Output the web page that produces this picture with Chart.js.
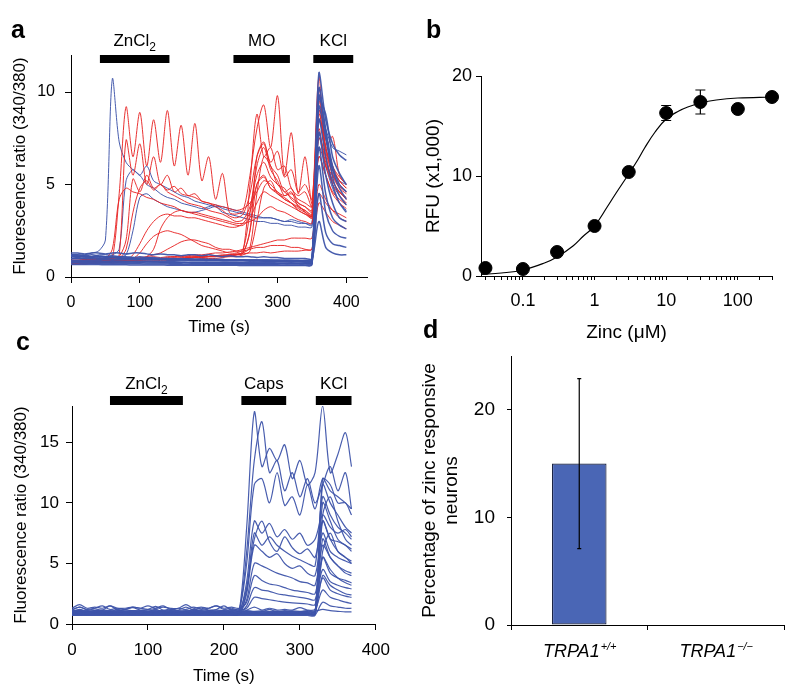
<!DOCTYPE html>
<html>
<head>
<meta charset="utf-8">
<script src="https://cdn.jsdelivr.net/npm/chart.js@4.4.1/dist/chart.umd.min.js"></script>
<style>
  body { margin: 0; background: #fff; width: 800px; height: 694px; position: relative; overflow: hidden;
         font-family: 'Liberation Sans', Arial, sans-serif; }
  canvas { position: absolute; }
  .letter { position: absolute; font-weight: bold; font-size: 25px; line-height: 25px; color: #000; }
</style>
</head>
<body>
<canvas id="chartA" width="400" height="345" style="left:0;top:0"></canvas>
<canvas id="chartB" width="400" height="345" style="left:400px;top:0"></canvas>
<canvas id="chartC" width="400" height="364" style="left:0;top:330px"></canvas>
<canvas id="chartD" width="400" height="364" style="left:400px;top:330px"></canvas>
<div class="letter" style="left:11px;top:17px">a</div>
<div class="letter" style="left:426px;top:17px">b</div>
<div class="letter" style="left:16px;top:329px">c</div>
<div class="letter" style="left:423px;top:317px">d</div>
<script>
// ---- panel a: Fura-2 traces, zinc / MO / KCl ----
const aTime = [0,10,20,30,40,50,60,70,80,90,100,110,120,130,140,150,160,170,180,190,200,
               210,220,230,240,250,260,270,280,290,300,310,320,330,340,350,360,370,380,390,400];
const aXTicks = [0, 100, 200, 300, 400];
const aYTicks = [0, 5, 10];
const aStimLabels = ['ZnCl₂', 'MO', 'KCl'];
const aStimStart = [42, 236, 352];
const aStimEnd = [143, 318, 410];

const aRed = [
  [0.8,0.8,0.85,0.85,0.9,0.9,1.0,4.5,9.2,6.5, 8.9,6.0,8.5,6.2,9.0,6.0,8.2,5.5,8.3,5.2, 6.5,4.2,5.6,3.5,3.4,3.6,5.5,8.0,9.3,7.0, 9.8,5.5,7.8,4.5,6.5,4.0,10.8,7.0,7.6,5.5, 5.0],
  [0.9,0.9,0.9,0.95,0.95,1.0,1.0,1.2,7.4,5.5, 7.2,5.0,6.5,5.0,5.5,4.6,4.8,4.4,4.5,4.1, 4.0,3.8,3.6,3.3,3.2,3.4,4.5,6.5,7.2,6.0, 5.5,4.6,4.8,4.0,3.8,3.5,9.5,7.0,5.5,4.8, 4.5],
  [0.8,0.8,0.8,0.85,0.85,0.9,0.9,1.0,1.5,3.5, 4.8,5.2,4.7,5.0,4.6,4.4,4.2,4.0,3.9,3.8, 3.6,3.5,3.4,3.2,3.0,3.1,3.8,5.5,6.2,5.4, 5.0,4.6,4.3,4.0,3.8,3.6,8.5,7.5,6.0,5.2, 4.8],
  [0.7,0.7,0.7,0.75,0.75,0.8,0.8,0.85,0.9,1.2, 1.8,2.5,3.0,3.3,3.4,3.3,3.3,3.2,3.2,3.1, 3.0,2.9,2.8,2.7,2.7,2.9,3.5,5.0,5.4,4.8, 4.5,4.2,4.0,3.7,3.5,3.3,7.5,6.5,5.2,4.6, 4.2],
  [0.75,0.75,0.8,0.8,0.8,0.85,0.85,0.9,0.9,1.0, 1.3,1.8,2.2,2.4,2.5,2.4,2.3,2.1,1.9,1.7, 1.6,1.5,1.4,1.3,1.3,1.5,3.5,6.0,7.0,5.8, 5.2,4.4,4.6,3.8,3.6,3.4,9.0,6.5,5.0,4.6, 4.2],
  [0.9,0.9,0.95,0.9,0.95,1.0,0.95,1.0,1.0,1.05, 1.0,1.05,1.1,1.05,1.1,1.1,1.15,1.1,1.15,1.1, 1.2,1.15,1.2,1.2,1.25,1.3,1.6,4.5,6.5,6.0, 5.0,4.8,4.2,3.9,3.5,3.2,8.0,6.0,5.5,4.9, 4.6],
  [0.8,0.8,0.85,0.8,0.85,0.85,0.9,0.9,0.95,0.9, 0.95,1.0,0.95,1.0,1.0,1.05,1.0,1.05,1.1,1.05, 1.1,1.1,1.15,1.1,1.2,1.3,2.5,5.0,5.5,4.8, 4.6,4.2,4.0,3.8,3.6,3.3,6.5,5.5,4.6,4.2, 3.9],
  [0.7,0.75,0.7,0.75,0.75,0.8,0.75,0.8,0.8,0.85, 0.8,0.85,0.85,0.9,0.9,0.9,0.95,0.9,0.95,1.0, 1.0,1.0,1.05,1.1,1.1,1.2,1.4,3.0,4.8,5.2, 4.5,4.3,4.0,3.6,3.4,3.2,7.0,6.0,5.0,4.4, 4.0],
  [0.9,0.9,0.9,0.95,1.0,1.0,1.5,4.2,4.8,4.6, 4.5,4.3,4.2,4.0,3.9,3.8,3.6,3.5,3.5,3.4, 3.3,3.2,3.1,3.0,2.9,2.9,3.0,3.2,3.6,3.8, 3.6,3.5,3.3,3.1,3.0,2.9,6.5,5.5,4.5,4.0, 3.7],
  [0.85,0.85,0.9,0.9,0.9,0.95,0.95,1.0,1.0,1.0, 1.05,1.1,1.2,1.3,1.5,1.7,1.9,2.0,2.0,1.9, 1.8,1.6,1.5,1.5,1.4,1.4,1.5,1.6,1.6,1.7, 1.7,1.7,1.6,1.6,1.5,1.5,4.0,3.5,3.0,2.8, 2.6],
  [0.8,0.8,0.8,0.85,0.85,0.85,0.9,0.9,0.9,0.95, 0.95,1.0,1.0,1.0,1.05,1.1,1.1,1.15,1.2,1.2, 1.25,1.3,1.3,1.35,1.4,1.5,1.6,1.7,1.8,1.9, 2.0,2.0,2.1,2.1,2.1,2.1,5.0,4.2,3.6,3.2, 3.0],
  [0.9,0.9,0.95,0.95,1.0,1.0,1.0,1.1,2.0,5.3, 4.6,5.5,4.8,5.0,4.7,4.9,4.5,4.4,4.3,4.1, 4.0,3.9,3.8,3.7,3.6,3.7,4.0,4.6,5.2,5.0, 4.6,4.4,4.5,4.2,4.0,3.8,8.8,7.0,5.8,5.2, 4.8],
  [0.75,0.75,0.8,0.8,0.8,0.8,0.85,0.85,0.85,0.9, 0.9,0.9,0.95,0.95,1.0,1.0,1.0,1.05,1.05,1.1, 1.1,1.1,1.15,1.2,1.2,1.3,2.5,6.5,7.3,6.2, 6.8,5.4,5.8,4.6,5.0,4.2,9.8,7.5,6.0,5.4, 5.0],
  [0.7,0.7,0.75,0.75,0.8,0.8,0.8,0.85,0.85,0.9, 0.9,0.95,0.95,1.0,1.0,1.0,1.05,1.05,1.1,1.1, 1.1,1.15,1.15,1.2,1.2,1.25,1.3,1.3,1.35,1.3, 1.35,1.4,1.4,1.4,1.45,1.5,4.5,4.0,3.6,3.4, 3.2],
  [0.85,0.85,0.85,0.9,0.9,0.9,0.95,0.95,1.0,1.0, 1.0,1.1,1.5,2.6,3.2,3.5,3.6,3.5,3.4,3.3, 3.2,3.1,3.0,2.9,2.8,2.8,3.2,4.0,4.6,4.4, 4.2,4.0,3.8,3.6,3.4,3.3,7.8,6.2,5.2,4.6, 4.3],
  [0.8,0.8,0.8,0.85,0.8,0.85,0.85,0.9,0.85,0.9, 0.9,0.95,0.9,0.95,0.95,1.0,1.0,1.0,1.05,1.05, 1.1,1.1,1.1,1.15,1.2,1.4,5.0,8.8,6.5,7.0, 5.8,6.0,4.8,4.4,4.6,3.8,10.2,6.8,5.6,5.0, 4.6]
];
const aBlueResp = [
  [1.2,1.2,1.2,1.3,1.4,2.0,10.7,7.3,6.2,5.8, 5.5,5.0,4.8,4.5,4.3,4.2,4.0,3.9,3.8,3.7, 3.8,3.9,3.7,3.6,3.5,3.4,3.3,3.2,3.2,3.2, 3.1,3.0,3.0,2.9,2.9,2.9,9.0,8.0,7.0,6.8, 6.6],
  [1.1,1.1,1.15,1.1,1.2,1.2,1.2,1.5,5.2,5.8, 5.5,6.0,5.2,5.0,4.8,4.6,4.4,4.3,4.1,4.0, 3.9,3.8,3.8,3.7,3.6,3.5,3.4,3.3,3.2,3.2, 3.1,3.0,3.1,3.0,2.9,2.8,8.5,7.0,5.8,5.2, 5.0],
  [1.0,1.0,1.05,1.0,1.05,1.1,1.1,1.1,1.2,2.5, 4.3,4.5,4.2,4.0,3.8,3.7,3.6,3.5,3.5,3.6, 3.7,3.8,3.5,3.4,3.3,3.2,3.1,3.0,3.0,2.9, 2.9,2.8,2.8,2.7,2.7,2.7,7.5,6.0,4.8,4.0, 3.6]
];
const aBlueBase = [
  [1.3,1.3,1.25,1.3,1.3,1.25,1.3,1.3,1.25,1.3, 1.3,1.25,1.2,1.25,1.2,1.2,1.15,1.2,1.2,1.15, 1.2,1.15,1.1,1.15,1.1,1.1,1.1,1.05,1.1,1.05, 1.05,1.0,1.0,1.0,1.0,1.0,11.0,8.5,7.2,6.6, 6.3],
  [1.1,1.1,1.1,1.05,1.1,1.1,1.05,1.1,1.05,1.05, 1.0,1.05,1.0,1.0,1.0,0.95,1.0,0.95,0.95,0.95, 0.9,0.95,0.9,0.9,0.9,0.9,0.85,0.9,0.85,0.85, 0.85,0.85,0.8,0.85,0.8,0.8,9.6,8.8,6.5,5.6, 5.0],
  [0.9,0.9,0.88,0.9,0.88,0.86,0.88,0.86,0.85,0.85, 0.84,0.85,0.83,0.83,0.82,0.82,0.8,0.8,0.8,0.8, 0.78,0.78,0.78,0.77,0.77,0.76,0.76,0.75,0.75,0.75, 0.74,0.74,0.73,0.73,0.73,0.75,9.2,7.5,5.8,4.8, 4.2],
  [0.75,0.75,0.74,0.74,0.73,0.73,0.72,0.72,0.72,0.71, 0.71,0.7,0.7,0.7,0.7,0.69,0.69,0.69,0.68,0.68, 0.68,0.68,0.67,0.67,0.67,0.67,0.66,0.66,0.66,0.66, 0.66,0.65,0.65,0.65,0.65,0.7,8.5,6.5,5.0,4.0, 3.5],
  [1.2,1.2,1.15,1.2,1.15,1.1,1.15,1.1,1.1,1.05, 1.1,1.05,1.05,1.0,1.0,1.0,0.98,0.98,0.96,0.96, 0.95,0.95,0.94,0.93,0.93,0.92,0.92,0.91,0.9,0.9, 0.9,0.89,0.88,0.88,0.88,0.9,7.0,4.5,3.2,2.8, 2.6],
  [1.0,1.0,0.98,0.98,0.96,0.96,0.95,0.95,0.94,0.94, 0.93,0.93,0.92,0.92,0.91,0.9,0.9,0.9,0.89,0.89, 0.88,0.88,0.87,0.87,0.86,0.86,0.86,0.85,0.85,0.85, 0.84,0.84,0.84,0.83,0.83,0.85,6.0,3.5,2.5,2.2, 2.1],
  [0.8,0.8,0.8,0.79,0.79,0.78,0.78,0.78,0.77,0.77, 0.77,0.76,0.76,0.76,0.75,0.75,0.75,0.75,0.74,0.74, 0.74,0.74,0.73,0.73,0.73,0.73,0.72,0.72,0.72,0.72, 0.72,0.71,0.71,0.71,0.71,0.75,4.5,2.4,1.8,1.7, 1.6],
  [1.15,1.15,1.1,1.1,1.1,1.05,1.05,1.05,1.0,1.0, 1.0,1.0,0.98,0.98,0.97,0.97,0.96,0.96,0.95,0.95, 0.95,0.94,0.94,0.93,0.93,0.93,0.92,0.92,0.92,0.91, 0.91,0.91,0.9,0.9,0.9,0.95,3.0,1.6,1.3,1.2, 1.2],
  [0.85,0.85,0.84,0.84,0.83,0.83,0.83,0.82,0.82,0.82, 0.81,0.81,0.81,0.8,0.8,0.8,0.8,0.79,0.79,0.79, 0.79,0.78,0.78,0.78,0.78,0.77,0.77,0.77,0.77,0.77, 0.76,0.76,0.76,0.76,0.76,0.8,10.2,8.0,6.0,5.0, 4.6],
  [1.0,1.05,1.0,1.05,1.0,1.0,1.05,1.0,1.0,0.98, 0.98,0.97,0.97,0.96,0.96,0.95,0.95,0.94,0.94,0.93, 0.93,0.92,0.92,0.92,0.91,0.91,0.9,0.9,0.9,0.9, 0.89,0.89,0.89,0.88,0.88,0.9,7.8,5.5,4.0,3.2, 3.0],
  [0.68,0.68,0.67,0.67,0.67,0.66,0.66,0.66,0.66,0.65, 0.65,0.65,0.65,0.65,0.64,0.64,0.64,0.64,0.64,0.63, 0.63,0.63,0.63,0.63,0.63,0.62,0.62,0.62,0.62,0.62, 0.62,0.62,0.62,0.62,0.62,0.66,9.8,7.8,5.4,4.4, 3.9]
];

// ---- panel b: dose-response ----
const bConc = [0.03, 0.1, 0.3, 1, 3, 10, 30, 100, 300];
const bRfu = [0.8, 0.7, 2.4, 5.0, 10.4, 16.3, 17.4, 16.7, 17.9];
const bSem = [0.2, 0.2, 0.2, 0.2, 0.2, 0.75, 1.2, 0.2, 0.2];
const bFitConc = [0.026, 0.05, 0.1, 0.2, 0.3, 0.5, 0.7, 1, 1.5, 2, 3, 4, 5, 7, 10, 15, 20, 30, 50, 100, 300];
const bFitRfu = [0.15, 0.3, 0.6, 1.3, 1.9, 3.0, 4.0, 5.0, 6.9, 8.3, 10.2, 11.6, 12.8, 14.4, 15.7, 16.5, 16.9, 17.3, 17.6, 17.8, 17.9];
const bXTicks = [0.03,0.04,0.05,0.06,0.07,0.08,0.09, 0.1,0.2,0.3,0.4,0.5,0.6,0.7,0.8,0.9,
                 1,2,3,4,5,6,7,8,9, 10,20,30,40,50,60,70,80,90, 100,200,300];
const bXLabeled = [0.1, 1, 10, 100];
const bYTicks = [0, 10, 20];

// ---- panel c: zinc / capsaicin / KCl ----
const cTime = [0,10,20,30,40,50,60,70,80,90,100,110,120,130,140,150,160,170,180,190,200,
               210,220,230,240,250,260,270,280,290,300,310,320,330,340,350,360,368];
const cXTicks = [0, 100, 200, 300, 400];
const cYTicks = [0, 5, 10, 15];
const cStimLabels = ['ZnCl₂', 'Caps', 'KCl'];
const cStimStart = [50, 223, 321];
const cStimEnd = [146, 282, 368];
const cTraces = [
  [1.0,1.1,1.0,1.05,1.1,1.0,1.05,1.0,1.1,1.05, 1.0,1.05,1.1,1.0,1.05,1.0,1.1,1.05,1.0,1.05, 1.1,1.0,1.05,8.0,17.5,13.0,14.5,13.5,14.8,12.0, 13.5,11.5,12.5,18.0,12.5,14.0,15.8,13.0],
  [0.9,0.95,1.0,0.9,0.95,0.9,1.0,0.95,0.9,0.95, 1.0,0.9,0.95,0.9,1.0,0.95,0.9,0.95,1.0,0.9, 0.95,0.9,1.0,6.0,13.5,16.7,12.5,13.5,11.0,12.5, 10.5,12.0,10.0,11.5,13.0,11.0,12.5,9.5],
  [1.2,1.4,1.2,1.3,1.5,1.2,1.3,1.2,1.4,1.3, 1.2,1.3,1.5,1.2,1.3,1.2,1.4,1.2,1.3,1.5, 1.2,1.3,1.2,5.0,11.5,12.0,10.0,12.5,9.8,10.5, 9.0,11.5,9.5,12.0,11.5,10.0,10.0,9.0],
  [0.85,0.9,0.85,0.88,0.85,0.9,0.85,0.88,0.85,0.9, 0.85,0.88,0.85,0.9,0.85,0.88,0.85,0.9,0.85,0.88, 0.85,0.9,0.85,3.5,8.5,7.5,8.3,7.2,7.8,7.0, 7.5,6.5,7.0,9.0,8.0,7.5,7.8,7.2],
  [1.0,1.05,1.0,1.0,1.05,1.0,1.0,1.05,1.0,1.0, 1.05,1.0,1.0,1.05,1.0,1.0,1.05,1.0,1.0,1.05, 1.0,1.0,1.05,3.0,7.0,8.5,6.8,6.0,7.2,6.3, 5.8,6.2,5.5,8.5,7.0,6.8,6.5,6.0],
  [0.8,0.82,0.8,0.8,0.82,0.8,0.8,0.82,0.8,0.8, 0.82,0.8,0.8,0.82,0.8,0.8,0.82,0.8,0.8,0.82, 0.8,0.8,0.82,2.5,6.5,6.0,5.5,5.8,5.0,4.6, 4.8,4.2,4.0,7.5,6.0,5.5,5.2,5.0],
  [0.95,1.0,0.95,0.95,1.0,0.95,0.95,1.0,0.95,0.95, 1.0,0.95,0.95,1.0,0.95,0.95,1.0,0.95,0.95,1.0, 0.95,0.95,1.0,2.0,5.0,4.8,4.5,4.2,4.0,3.8, 3.5,3.4,3.2,6.5,5.5,4.8,4.4,4.2],
  [1.3,1.6,1.3,1.4,1.3,1.5,1.3,1.3,1.4,1.3, 1.5,1.3,1.4,1.3,1.3,1.6,1.3,1.4,1.3,1.5, 1.3,1.4,1.3,1.8,4.0,3.6,3.3,3.2,3.0,2.8, 2.7,2.6,2.5,5.5,4.2,3.8,3.6,3.4],
  [0.9,0.92,0.9,0.9,0.92,0.9,0.9,0.92,0.9,0.9, 0.92,0.9,0.9,0.92,0.9,0.9,0.92,0.9,0.9,0.92, 0.9,0.9,0.92,1.5,3.0,2.8,2.7,2.5,2.4,2.3, 2.2,2.1,2.0,4.5,3.5,3.2,3.0,2.9],
  [1.1,1.15,1.1,1.1,1.15,1.1,1.1,1.15,1.1,1.1, 1.15,1.1,1.1,1.15,1.1,1.1,1.15,1.1,1.1,1.15, 1.1,1.1,1.15,1.3,2.2,2.1,2.0,1.9,1.8,1.75, 1.7,1.65,1.6,3.8,2.8,2.5,2.3,2.2],
  [0.75,0.78,0.75,0.75,0.78,0.75,0.75,0.78,0.75,0.75, 0.78,0.75,0.75,0.78,0.75,0.75,0.78,0.75,0.75,0.78, 0.75,0.75,0.78,2.8,7.5,6.5,7.2,6.5,6.0,5.6, 5.3,5.0,4.8,10.5,9.0,8.0,7.5,7.0],
  [0.9,0.9,0.88,0.9,0.88,0.9,0.88,0.9,0.88,0.9, 0.88,0.9,0.88,0.9,0.88,0.9,0.88,0.9,0.88,0.9, 0.88,0.9,0.88,0.9,0.88,0.9,0.88,0.9,0.88,0.9, 0.88,0.9,0.9,11.5,10.0,9.0,8.0,7.5],
  [0.8,0.78,0.8,0.79,0.8,0.78,0.8,0.79,0.8,0.78, 0.8,0.78,0.8,0.79,0.8,0.78,0.8,0.79,0.8,0.78, 0.8,0.78,0.8,0.79,0.8,0.78,0.8,0.79,0.8,0.78, 0.8,0.79,0.8,10.0,8.5,7.0,6.5,6.2],
  [1.0,1.2,1.0,1.1,1.0,1.0,1.2,1.0,1.1,1.0, 1.0,1.2,1.0,1.1,1.0,1.0,1.2,1.0,1.1,1.0, 1.0,1.2,1.0,1.1,1.0,1.0,1.2,1.0,1.1,1.0, 1.0,1.1,1.0,8.5,7.0,6.0,5.5,5.0],
  [0.7,0.72,0.7,0.71,0.7,0.72,0.7,0.71,0.7,0.72, 0.7,0.72,0.7,0.71,0.7,0.72,0.7,0.71,0.7,0.72, 0.7,0.72,0.7,0.71,0.7,0.72,0.7,0.71,0.7,0.72, 0.7,0.71,0.72,7.0,5.5,4.8,4.2,4.0],
  [0.95,0.97,0.95,0.96,0.95,0.97,0.95,0.96,0.95,0.97, 0.95,0.97,0.95,0.96,0.95,0.97,0.95,0.96,0.95,0.97, 0.95,0.97,0.95,0.96,0.95,0.97,0.95,0.96,0.95,0.97, 0.95,0.96,0.96,5.5,4.5,3.8,3.4,3.2],
  [0.85,0.86,0.85,0.87,0.85,0.86,0.85,0.87,0.85,0.86, 0.85,0.87,0.85,0.86,0.85,0.87,0.85,0.86,0.85,0.87, 0.85,0.86,0.85,0.87,0.85,0.86,0.85,0.87,0.85,0.86, 0.85,0.87,0.86,4.0,3.2,2.8,2.5,2.4],
  [1.15,1.4,1.15,1.25,1.15,1.5,1.15,1.2,1.35,1.15, 1.2,1.45,1.15,1.25,1.15,1.4,1.15,1.3,1.15,1.2, 1.5,1.15,1.25,1.15,1.4,1.15,1.3,1.15,1.2,1.15, 1.35,1.15,1.2,2.8,2.2,2.0,1.8,1.7],
  [0.75,0.76,0.75,0.77,0.75,0.76,0.75,0.77,0.75,0.76, 0.75,0.77,0.75,0.76,0.75,0.77,0.75,0.76,0.75,0.77, 0.75,0.76,0.75,0.77,0.75,0.76,0.75,0.77,0.75,0.76, 0.75,0.77,0.76,1.8,1.5,1.4,1.3,1.3],
  [1.05,1.08,1.05,1.06,1.05,1.08,1.05,1.06,1.05,1.08, 1.05,1.06,1.05,1.08,1.05,1.06,1.05,1.08,1.05,1.06, 1.05,1.08,1.05,1.06,1.05,1.08,1.05,1.06,1.05,1.08, 1.05,1.06,1.05,1.2,1.1,1.05,1.0,1.0],
  [0.92,0.93,0.92,0.94,0.92,0.93,0.92,0.94,0.92,0.93, 0.92,0.94,0.92,0.93,0.92,0.94,0.92,0.93,0.92,0.94, 0.92,0.93,0.92,0.94,0.92,0.93,0.92,0.94,0.92,0.93, 0.92,0.93,0.92,12.0,11.0,10.5,10.0,9.5],
  [0.82,0.83,0.82,0.84,0.82,0.83,0.82,0.84,0.82,0.83, 0.82,0.84,0.82,0.83,0.82,0.84,0.82,0.83,0.82,0.84, 0.82,0.83,0.82,0.84,0.82,0.83,0.82,0.84,0.82,0.83, 0.82,0.84,0.83,6.0,7.5,6.0,5.5,5.2],
  [1.0,1.02,1.0,1.03,1.0,1.02,1.0,1.03,1.0,1.02, 1.0,1.03,1.0,1.02,1.0,1.03,1.0,1.02,1.0,1.03, 1.0,1.02,1.0,1.03,1.0,1.02,1.0,1.03,1.0,1.02, 1.0,1.03,1.0,9.0,10.5,8.5,7.0,6.5]
];

// ---- panel d: percentage of zinc responsive neurons ----
const dGene = ['TRPA1', 'TRPA1'];
const dGenotype = ['+/+', '−/−'];
const dPercent = [15.0, 0];
const dSem = [7.9, 0];
const dYTicks = [0, 10, 20];

const FONT = "'Liberation Sans', Arial, sans-serif";
const RED = 'rgba(232,40,40,0.95)';
const BLUE = 'rgba(62,84,170,0.95)';
const BAR_BLUE = '#4a66b5';

Chart.defaults.font.family = FONT;
Chart.defaults.color = '#000';

function traces(time, list, color, order, width) {
  return list.map(vals => ({
    data: time.map((t, i) => ({ x: t, y: vals[i] })),
    borderColor: color, borderWidth: width, pointRadius: 0, tension: 0.3, order: order
  }));
}

function axis(fontSize, tickLen, pad, extra) {
  return Object.assign({
    grid: { display: true, drawOnChartArea: false, drawTicks: true, tickLength: tickLen, color: '#000' },
    border: { display: true, color: '#000', width: 1 },
    ticks: { color: '#000', font: { size: fontSize }, padding: pad, autoSkip: false, maxRotation: 0 }
  }, extra);
}

function title(text, size, pad) {
  return { display: true, text: text, color: '#000', font: { size: size }, padding: pad };
}

function fixedTicks(list) {
  return s => { s.ticks = list.map(v => ({ value: v })); };
}

// stimulus bars with labels above the plot
function stimPlugin(labels, starts, ends, barTop, barH, labelY, size) {
  return {
    id: 'stim',
    afterDraw(chart) {
      const { ctx, chartArea, scales: { x } } = chart;
      ctx.save();
      labels.forEach((lab, i) => {
        const x0 = x.getPixelForValue(starts[i]);
        const x1 = x.getPixelForValue(ends[i]);
        ctx.fillStyle = '#000';
        ctx.fillRect(x0, chartArea.top + barTop, x1 - x0, barH);
        const parts = lab.split('₂');
        ctx.font = size + 'px ' + FONT;
        const wMain = ctx.measureText(parts[0]).width;
        const subSize = Math.round(size * 0.68);
        ctx.font = subSize + 'px ' + FONT;
        const wSub = parts.length > 1 ? ctx.measureText('2').width : 0;
        const left = (x0 + x1) / 2 - (wMain + wSub) / 2;
        const base = chartArea.top + labelY + size * 0.36;
        ctx.textAlign = 'left';
        ctx.textBaseline = 'alphabetic';
        ctx.font = size + 'px ' + FONT;
        ctx.fillText(parts[0], left, base);
        if (parts.length > 1) {
          ctx.font = subSize + 'px ' + FONT;
          ctx.fillText('2', left + wMain, base + size * 0.3);
        }
      });
      ctx.restore();
    }
  };
}

const common = {
  responsive: false, animation: false, events: [],
  plugins: { legend: { display: false }, tooltip: { enabled: false } }
};

// panel a
new Chart(document.getElementById('chartA'), {
  type: 'line',
  data: { datasets: [
    ...traces(aTime, aBlueResp, BLUE, 2, 1),
    ...traces(aTime, aRed, RED, 1, 1),
    ...traces(aTime, aBlueBase, BLUE, 0, 1.5)
  ] },
  options: Object.assign({}, common, {
    layout: { padding: { left: 0, top: 55, right: 33, bottom: 0 } },
    scales: {
      x: axis(16, 6, 10, { type: 'linear', min: 0, max: 430, afterBuildTicks: fixedTicks(aXTicks),
        afterFit: s => { s.height = 68; }, title: title('Time (s)', 17, { top: 0, bottom: 7 }) }),
      y: axis(16, 6, 10, { min: 0, max: 12, afterBuildTicks: fixedTicks(aYTicks),
        afterFit: s => { s.width = 71; }, title: title('Fluorescence ratio (340/380)', 17, { top: 10, bottom: 0 }) })
    }
  }),
  plugins: [stimPlugin(aStimLabels, aStimStart, aStimEnd, 0, 8, -15, 17)]
});

// panel b
new Chart(document.getElementById('chartB'), {
  type: 'scatter',
  data: { datasets: [
    { data: bConc.map((c, i) => ({ x: c, y: bRfu[i] })), pointRadius: 6.5, pointBackgroundColor: '#000',
      pointBorderColor: '#000', showLine: false, clip: false, order: 0 },
    { data: bFitConc.map((c, i) => ({ x: c, y: bFitRfu[i] })), pointRadius: 0, showLine: true,
      borderColor: '#000', borderWidth: 1.2, tension: 0.4, order: 1 }
  ] },
  options: Object.assign({}, common, {
    layout: { padding: { left: 0, top: 76, right: 28, bottom: 0 } },
    scales: {
      x: axis(18, 4, 10, { type: 'logarithmic', min: 0.026, max: 300, afterBuildTicks: fixedTicks(bXTicks),
        ticks: { color: '#000', font: { size: 18 }, padding: 10, autoSkip: false, maxRotation: 0,
          callback: v => bXLabeled.includes(v) ? String(v) : '' },
        afterFit: s => { s.height = 69; }, title: title('Zinc (μM)', 19, { top: 0, bottom: 1 }) }),
      y: axis(18, 5, 4, { min: 0, max: 20, afterBuildTicks: fixedTicks(bYTicks),
        afterFit: s => { s.width = 81; }, title: title('RFU (x1,000)', 19, { top: 22, bottom: 0 }) })
    }
  }),
  plugins: [{
    id: 'bErr',
    afterDatasetsDraw(chart) {
      const { ctx, scales: { x, y } } = chart;
      ctx.save();
      ctx.strokeStyle = '#000';
      ctx.lineWidth = 1.2;
      bConc.forEach((c, i) => {
        const px = x.getPixelForValue(c);
        const top = y.getPixelForValue(bRfu[i] + bSem[i]);
        const bot = y.getPixelForValue(bRfu[i] - bSem[i]);
        ctx.beginPath();
        ctx.moveTo(px, top); ctx.lineTo(px, bot);
        ctx.moveTo(px - 5, top); ctx.lineTo(px + 5, top);
        ctx.moveTo(px - 5, bot); ctx.lineTo(px + 5, bot);
        ctx.stroke();
      });
      ctx.restore();
    }
  }]
});

// panel c
new Chart(document.getElementById('chartC'), {
  type: 'line',
  data: { datasets: traces(cTime, cTraces, BLUE, 0, 1.2) },
  options: Object.assign({}, common, {
    layout: { padding: { left: 0, top: 76, right: 24, bottom: 0 } },
    scales: {
      x: axis(17, 6, 10, { type: 'linear', min: 0, max: 400, afterBuildTicks: fixedTicks(cXTicks),
        afterFit: s => { s.height = 70; }, title: title('Time (s)', 17, { top: 0, bottom: 7 }) }),
      y: axis(17, 6, 7, { min: 0, max: 18, afterBuildTicks: fixedTicks(cYTicks),
        afterFit: s => { s.width = 72; }, title: title('Fluorescence ratio (340/380)', 17, { top: 11, bottom: 0 }) })
    }
  }),
  plugins: [stimPlugin(cStimLabels, cStimStart, cStimEnd, -10, 9, -23, 17)]
});

// panel d
new Chart(document.getElementById('chartD'), {
  type: 'bar',
  data: {
    labels: dGene.map((g, i) => g + dGenotype[i]),
    datasets: [{ data: dPercent, backgroundColor: BAR_BLUE, borderColor: '#1b2444', borderWidth: 1.2,
      borderSkipped: false, categoryPercentage: 1, barPercentage: 0.4 }]
  },
  options: Object.assign({}, common, {
    layout: { padding: { left: 0, top: 26, right: 16, bottom: 0 } },
    scales: {
      x: axis(18, 5, 10, { ticks: { callback: () => '' }, afterFit: s => { s.height = 69; } }),
      y: axis(19, 4, 12, { min: 0, max: 25, afterBuildTicks: fixedTicks(dYTicks),
        afterFit: s => { s.width = 111; },
        title: title(['Percentage of zinc responsive', 'neurons'], 19, { top: 18, bottom: 0 }) })
    }
  }),
  plugins: [{
    id: 'dExtras',
    afterDraw(chart) {
      const { ctx, chartArea, scales: { x, y } } = chart;
      ctx.save();
      // error bar
      ctx.strokeStyle = '#000';
      ctx.lineWidth = 1.2;
      dPercent.forEach((v, i) => {
        if (!dSem[i]) return;
        const px = x.getPixelForValue(i);
        const top = y.getPixelForValue(v + dSem[i]);
        const bot = y.getPixelForValue(v - dSem[i]);
        ctx.beginPath();
        ctx.moveTo(px, top); ctx.lineTo(px, bot);
        ctx.moveTo(px - 2, top); ctx.lineTo(px + 2, top);
        ctx.moveTo(px - 2, bot); ctx.lineTo(px + 2, bot);
        ctx.stroke();
      });
      // italic gene labels with superscript genotype
      ctx.fillStyle = '#000';
      ctx.textAlign = 'left';
      ctx.textBaseline = 'alphabetic';
      dGene.forEach((g, i) => {
        const cx = x.getPixelForValue(i);
        ctx.font = 'italic 18px ' + FONT;
        const w1 = ctx.measureText(g).width;
        ctx.font = 'italic 11px ' + FONT;
        const w2 = ctx.measureText(dGenotype[i]).width;
        const left = cx - (w1 + w2) / 2;
        const base = chartArea.bottom + 32;
        ctx.font = 'italic 18px ' + FONT;
        ctx.fillText(g, left, base);
        ctx.font = 'italic 11px ' + FONT;
        ctx.fillText(dGenotype[i], left + w1 + 1, base - 7);
      });
      ctx.restore();
    }
  }]
});
</script>
</body>
</html>
